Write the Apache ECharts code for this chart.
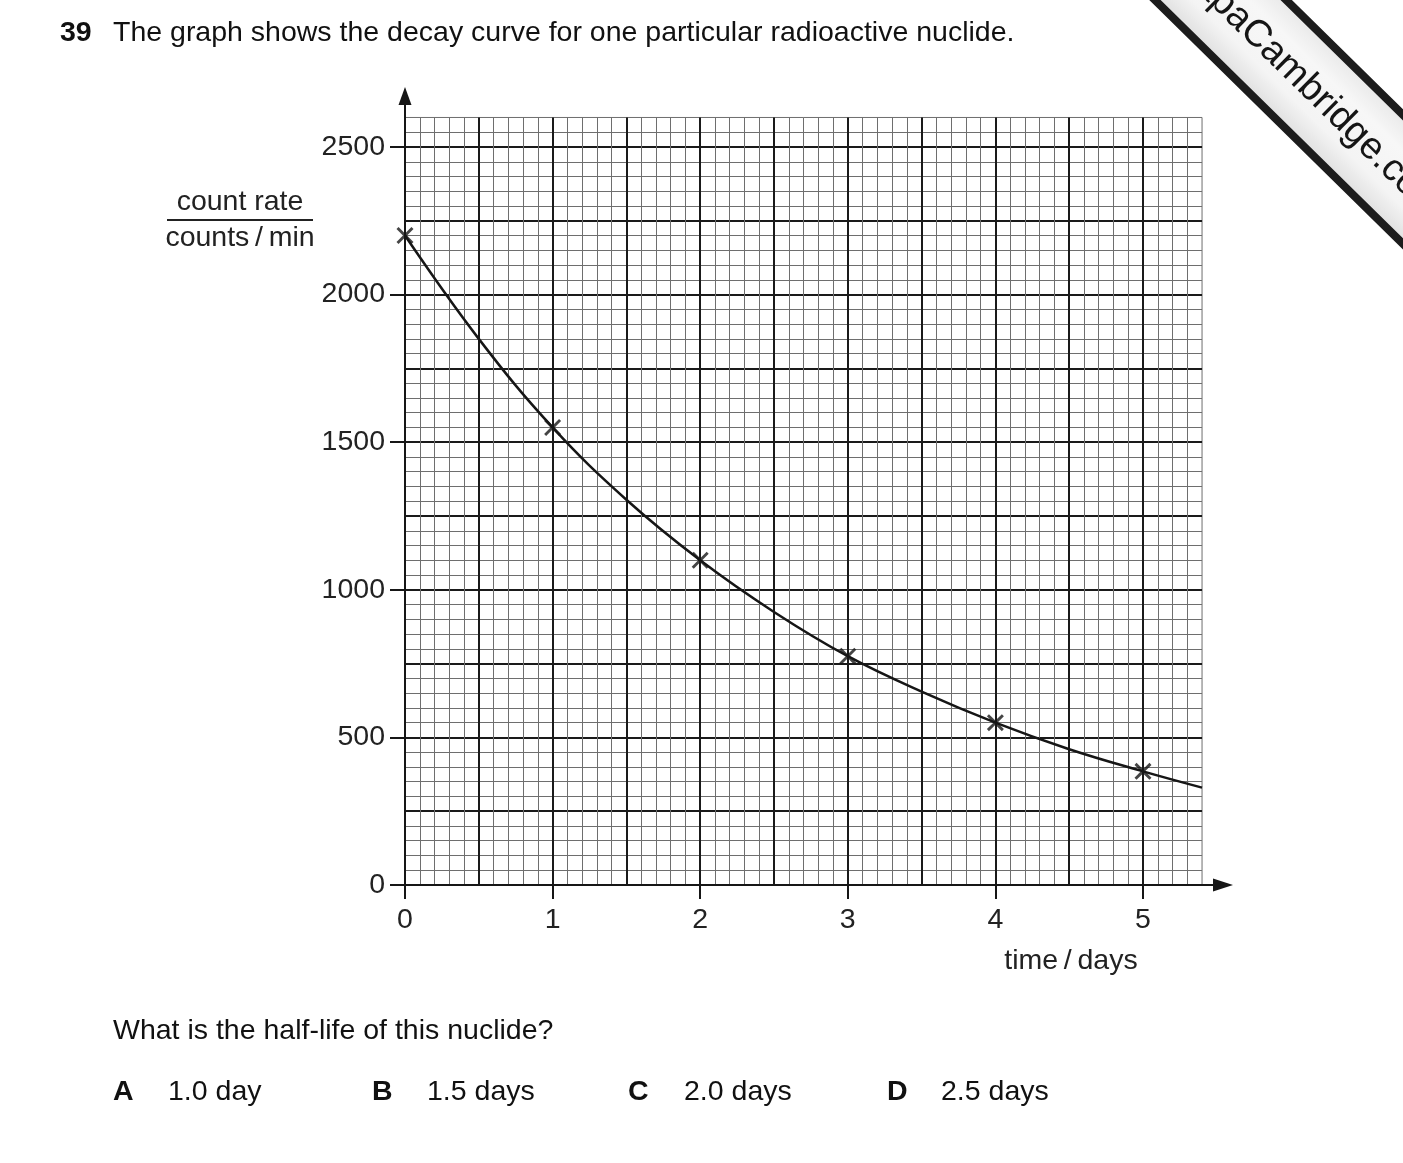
<!DOCTYPE html>
<html><head><meta charset="utf-8">
<script src="https://cdn.jsdelivr.net/npm/echarts@6/dist/echarts.min.js"></script>
<style>html,body{margin:0;padding:0;background:#fff}#c{width:1403px;height:1163px}</style>
</head><body><div id="c"></div>
<script>
// ---- data ----
const days = [0, 1, 2, 3, 4, 5];
const countRate = [2200, 1550, 1100, 775, 550, 385];
const curveDays = [0, 0.5, 1, 1.5, 2, 2.5, 3, 3.5, 4, 4.5, 5, 5.4];
const curveRate = [2200, 1850, 1550, 1305, 1100, 925, 775, 655, 550, 460, 385, 330];
const xTickValues = [0, 1, 2, 3, 4, 5];
const yTickValues = [0, 500, 1000, 1500, 2000, 2500];
const questionNo = '39';
const titleText = 'The graph shows the decay curve for one particular radioactive nuclide.';
const yNameTop = 'count rate';
const yNameBottom = 'counts\u2009/\u2009min';
const xName = 'time\u2009/\u2009days';
const questionText = 'What is the half-life of this nuclide?';
const optionLetters = ['A', 'B', 'C', 'D'];
const optionTexts = ['1.0 day', '1.5 days', '2.0 days', '2.5 days'];

// ---- layout ----
const FONT = "'Liberation Sans', Arial, sans-serif";
const FS = 28.5;
const unit = 147.6;              // px per day and per 500 counts
const ox = 405, oy = 885;        // origin
const xGridMax = 5.4, yGridMax = 2600;
const axisEndX = 1223, axisEndY = 96;
const ink = '#161616';

const chart = echarts.init(document.getElementById('c'), null, {renderer: 'canvas'});

const optLetterX = [113, 372, 628, 887];
const optTextX = [168, 427, 684, 941];
const graphics = [
  {type: 'text', x: 60, y: 33, style: {text: questionNo, font: 'bold ' + FS + 'px ' + FONT, fill: '#111', verticalAlign: 'middle'}},
  {type: 'text', x: 113, y: 33, style: {text: titleText, font: FS + 'px ' + FONT, fill: '#111', verticalAlign: 'middle'}},
  {type: 'text', x: 240, y: 202, style: {text: yNameTop, font: FS + 'px ' + FONT, fill: '#222', align: 'center', verticalAlign: 'middle'}},
  {type: 'line', shape: {x1: 167, y1: 220, x2: 313, y2: 220}, style: {stroke: '#222', lineWidth: 2}},
  {type: 'text', x: 240, y: 238, style: {text: yNameBottom, font: FS + 'px ' + FONT, fill: '#222', align: 'center', verticalAlign: 'middle'}},
  {type: 'text', x: 1071, y: 961, style: {text: xName, font: FS + 'px ' + FONT, fill: '#222', align: 'center', verticalAlign: 'middle'}},
  {type: 'text', x: 113, y: 1031, style: {text: questionText, font: FS + 'px ' + FONT, fill: '#111', verticalAlign: 'middle'}},
  // watermark banner
  {type: 'group', x: 1246, y: 25, rotation: -44.5 * Math.PI / 180, z: 100, children: [
    {type: 'rect', shape: {x: -300, y: -46, width: 800, height: 92},
     style: {fill: {type: 'linear', x: 0, y: 0, x2: 0, y2: 1, colorStops: [
       {offset: 0, color: '#e6e6e6'}, {offset: 0.3, color: '#f7f7f7'}, {offset: 0.7, color: '#f4f4f4'}, {offset: 1, color: '#dcdcdc'}]},
       stroke: '#1c1c1c', lineWidth: 8}},
    {type: 'text', x: 0, y: 0, style: {text: 'Papa', font: '38px ' + FONT, fill: '#151515', align: 'right', verticalAlign: 'middle'}},
    {type: 'text', x: 0, y: 0, style: {text: 'Cambridge.com', font: '38px ' + FONT, fill: '#151515', align: 'left', verticalAlign: 'middle'}}
  ]}
];
optionLetters.forEach((l, i) => {
  graphics.push({type: 'text', x: optLetterX[i], y: 1092, style: {text: l, font: 'bold ' + FS + 'px ' + FONT, fill: '#111', verticalAlign: 'middle'}});
  graphics.push({type: 'text', x: optTextX[i], y: 1092, style: {text: optionTexts[i], font: FS + 'px ' + FONT, fill: '#111', verticalAlign: 'middle'}});
});

const gridSplit = {show: true, showMinLine: false, showMaxLine: false, lineStyle: {color: '#1a1a1a', width: 2}};
const gridMinor = {show: true, lineStyle: {color: '#6e6e6e', width: 1}};

const xSymbol = 'path://M0,1.2 L1.2,0 L5,3.8 L8.8,0 L10,1.2 L6.2,5 L10,8.8 L8.8,10 L5,6.2 L1.2,10 L0,8.8 L3.8,5 Z';

const option = {
  animation: false,
  backgroundColor: '#fff',
  graphic: graphics,
  grid: [
    {left: ox, top: oy - yGridMax / 500 * unit, width: xGridMax * unit, height: yGridMax / 500 * unit,
     show: true, borderColor: '#6e6e6e', borderWidth: 1, backgroundColor: 'transparent', outerBoundsMode: 'none'},
    {left: ox, top: axisEndY, width: axisEndX - ox, height: oy - axisEndY, outerBoundsMode: 'none'}
  ],
  xAxis: [
    {gridIndex: 0, type: 'value', min: 0, max: xGridMax, interval: 0.5,
     axisLine: {show: false}, axisTick: {show: false}, axisLabel: {show: false},
     splitLine: gridSplit, minorTick: {show: false, splitNumber: 5}, minorSplitLine: gridMinor},
    {gridIndex: 1, type: 'value', min: 0, max: (axisEndX - ox) / unit,
     axisLine: {show: true, onZero: false, symbol: ['none', 'triangle'], symbolSize: [13, 20], lineStyle: {color: ink, width: 2}},
     axisTick: {show: true, customValues: xTickValues, length: 14, lineStyle: {color: ink, width: 2}},
     axisLabel: {show: true, customValues: xTickValues, formatter: v => String(v), margin: 21, fontSize: FS, fontFamily: FONT, color: '#222'},
     splitLine: {show: false}}
  ],
  yAxis: [
    {gridIndex: 0, type: 'value', min: 0, max: yGridMax, interval: 250,
     axisLine: {show: false}, axisTick: {show: false}, axisLabel: {show: false},
     splitLine: gridSplit, minorTick: {show: false, splitNumber: 5}, minorSplitLine: gridMinor},
    {gridIndex: 1, type: 'value', min: 0, max: (oy - axisEndY) / unit * 500,
     axisLine: {show: true, onZero: false, symbol: ['none', 'triangle'], symbolSize: [13, 18], lineStyle: {color: ink, width: 2}},
     axisTick: {show: true, customValues: yTickValues, length: 15, lineStyle: {color: ink, width: 2}},
     axisLabel: {show: true, customValues: yTickValues, formatter: v => String(v), margin: 20, padding: [4, 0, 0, 0], fontSize: FS, fontFamily: FONT, color: '#222'},
     splitLine: {show: false}}
  ],
  series: [
    {type: 'line', xAxisIndex: 0, yAxisIndex: 0, z: 5,
     data: curveDays.map((d, i) => [d, curveRate[i]]),
     smooth: 0.4, showSymbol: false, lineStyle: {color: ink, width: 2.5}},
    {type: 'scatter', xAxisIndex: 0, yAxisIndex: 0, z: 6,
     data: days.map((d, i) => [d, countRate[i]]),
     symbol: xSymbol, symbolSize: 17, itemStyle: {color: ink}}
  ]
};
chart.setOption(option);
</script>
</body></html>
